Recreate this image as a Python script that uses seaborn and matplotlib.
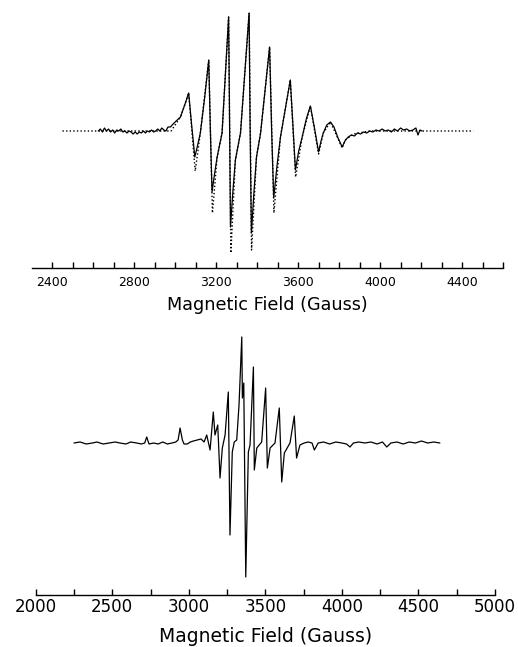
import numpy as np
import pandas as pd
import matplotlib
matplotlib.use("Agg")
import matplotlib.pyplot as plt
import seaborn as sns
from matplotlib.ticker import FixedLocator

# ---------------- data ----------------
# Top panel: experimental spectrum (solid)
field_exp = [2625, 2635, 2645, 2655, 2665, 2675, 2685, 2695, 2705, 2715, 2725, 2735, 2745, 2755,
             2765, 2775, 2785, 2795, 2805, 2815, 2825, 2835, 2845, 2855, 2865, 2875, 2885, 2895,
             2905, 2915, 2925, 2935, 2945, 2955, 2965, 2977, 2990, 3005, 3026, 3050, 3066, 3081,
             3096, 3110, 3123, 3145, 3164, 3172, 3180, 3193, 3205, 3229, 3261, 3266, 3270, 3282,
             3294, 3319, 3361, 3366, 3372, 3385, 3397, 3417, 3461, 3471, 3481, 3497, 3514, 3540,
             3562, 3575, 3587, 3603, 3620, 3640, 3660, 3680, 3700, 3712, 3723, 3740, 3758, 3775,
             3795, 3815, 3831, 3845, 3860, 3875, 3890, 3905, 3920, 3935, 3950, 3965, 3980, 3995,
             4010, 4025, 4040, 4055, 4070, 4085, 4100, 4115, 4130, 4145, 4160, 4175, 4185, 4195, 4205]
signal_exp = [0, 2, -1, 3, 0, 2, -1, 1, -2, 1, 0, 2, -1, 0,
              -2, 0, -1, -3, -1, -3, -1, -2, 0, -2, 0, -1, 1, -1,
              0, 2, 0, 3, 1, 0, 4, 4, 7, 10, 14, 28, 38, 5,
              -26, -14, -2, 35, 71, 0, -61, -42, -26, -2, 114, 0, -96, -60,
              -29, -2, 118, 0, -102, -60, -26, -2, 84, 0, -67, -35, -6, 25,
              51, 5, -39, -20, -6, 12, 25, 3, -21, -10, -2, 6, 9, 4,
              -7, -16, -9, -6, -4, -5, -2, -3, -1, -2, 0, -1, 1, 0,
              2, 0, 1, -1, 2, 0, 3, 1, 2, 0, 1, 3, -4, 1, 0]

# Top panel: simulated spectrum (dotted)
field_sim = [2450, 2980, 3026, 3050, 3066, 3098, 3123, 3164, 3182, 3205, 3229, 3261, 3272,
             3294, 3319, 3361, 3373, 3397, 3417, 3461, 3482, 3514, 3562, 3588, 3620, 3660,
             3700, 3723, 3758, 3815, 3831, 3870, 3950, 4455]
signal_sim = [0, 0, 14, 28, 38, -40, -2, 71, -82, -26, -2, 114, -122,
              -29, -2, 118, -119, -26, -2, 84, -82, -6, 51, -46, -6, 25,
              -23, -2, 9, -17, -9, -3, 0, 0]

# Bottom panel spectrum
field_bot = [2250, 2290, 2330, 2370, 2400, 2440, 2480, 2520, 2550, 2590, 2620, 2660, 2690, 2712,
             2725, 2740, 2770, 2800, 2830, 2860, 2890, 2915, 2930, 2943, 2958, 2969, 2990, 3010,
             3030, 3055, 3080, 3100, 3117, 3139, 3160, 3171, 3189, 3204, 3219, 3237, 3258, 3269,
             3284, 3297, 3313, 3328, 3346, 3350, 3359, 3372, 3389, 3400, 3422, 3428, 3444, 3476,
             3502, 3513, 3531, 3563, 3591, 3607, 3624, 3661, 3689, 3704, 3726, 3754, 3780, 3805,
             3820, 3845, 3880, 3920, 3960, 4000, 4030, 4053, 4075, 4110, 4150, 4190, 4230, 4265,
             4293, 4320, 4360, 4400, 4440, 4480, 4520, 4560, 4600, 4640]
signal_bot = [0, 1, -1, 0, 1, -1, 0, 1, 0, -1, 1, 0, -1, 0,
              6, -1, 0, -1, 1, -1, 0, 1, 3, 15, 3, -1, -1, 1,
              2, 3, 4, 1, 8, -7, 31, 8, 18, -35, -5, 8, 51, -92,
              -9, 1, 3, 38, 106, 45, 60, -134, -9, -2, 76, -27, -5, 1,
              55, -25, -5, 0, 35, -39, -10, 0, 27, -15, -2, 0, 1, 0,
              -7, 0, 1, -1, 1, 0, -1, -4, 0, 1, 0, 1, -1, 1,
              -4, 0, 1, -1, 1, 0, 2, 0, 1, 0]

top_major = [2400, 2800, 3200, 3600, 4000, 4400]
top_minor = list(range(2400, 4601, 100))
bot_major = [2000, 2500, 3000, 3500, 4000, 4500, 5000]
bot_minor = list(range(2000, 5001, 250))
xlabel = "Magnetic Field (Gauss)"

# ---------------- plotting ----------------
sns.set_theme(style="white")
plt.rcParams['font.family'] = ['DejaVu Sans']

W, H = 518, 647
fig = plt.figure(figsize=(W / 100, H / 100), dpi=100)
fig.patch.set_facecolor("white")

ax1 = fig.add_axes([31.7 / W, 1 - 268 / H, (503 - 31.7) / W, (268 - 5) / H])
ax2 = fig.add_axes([35.7 / W, 1 - 595 / H, 459.3 / W, (595 - 325) / H])

df_exp = pd.DataFrame({"field": field_exp, "signal": signal_exp})
df_sim = pd.DataFrame({"field": field_sim, "signal": signal_sim})
df_bot = pd.DataFrame({"field": field_bot, "signal": signal_bot})

sns.lineplot(data=df_sim, x="field", y="signal", ax=ax1, color="black", lw=1.0,
             linestyle=(0, (1, 1.6)), estimator=None, sort=False)
sns.lineplot(data=df_exp, x="field", y="signal", ax=ax1, color="black", lw=0.9,
             estimator=None, sort=False)
sns.lineplot(data=df_bot, x="field", y="signal", ax=ax2, color="black", lw=0.9,
             estimator=None, sort=False)

ax1.set_xlim(2300, 4600)
ax1.set_ylim(-137, 126)
ax2.set_xlim(2000, 5000)
ax2.set_ylim(-152, 118)

for ax, major, minor, tsize, lsize, pad, lpad, tlen in [
        (ax1, top_major, top_minor, 9, 12.7, 6, 5, 4),
        (ax2, bot_major, bot_minor, 12, 13.5, 2, 8, 4)]:
    ax.set_facecolor("white")
    sns.despine(ax=ax, left=True, top=True, right=True)
    ax.spines["bottom"].set_color("black")
    ax.spines["bottom"].set_linewidth(1.0)
    ax.set_yticks([])
    ax.set_ylabel("")
    ax.xaxis.set_major_locator(FixedLocator(major))
    ax.xaxis.set_minor_locator(FixedLocator([m for m in minor if m not in major]))
    ax.set_xticklabels([str(v) for v in major])
    ax.tick_params(axis="x", which="both", direction="in", length=tlen, width=1,
                   color="black", labelsize=tsize, labelcolor="black", pad=pad, bottom=True)
    ax.set_xlabel(xlabel, fontsize=lsize, color="black", labelpad=lpad)
    ax.grid(False)

fig.savefig("out.png", dpi=100, facecolor="white")
